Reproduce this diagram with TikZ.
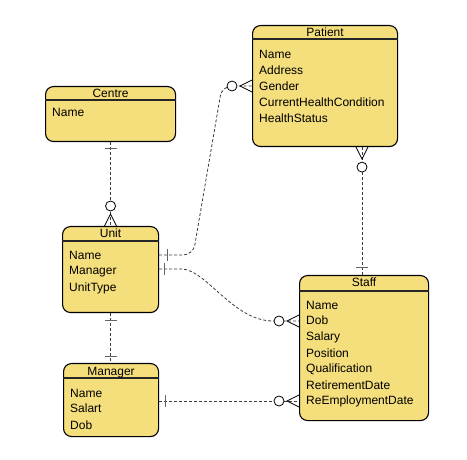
\documentclass[tikz,border=0pt]{standalone}
\usepackage{fontspec}
\setmainfont{Liberation Sans}
\usetikzlibrary{calc}
\definecolor{entfill}{RGB}{245,222,124}
\definecolor{conncol}{RGB}{60,60,60}
\definecolor{symcol}{RGB}{100,100,100}
\tikzset{
  entity/.style={draw=black, line width=1.1pt, fill=entfill, rounded corners=8pt,
    anchor=north west, inner sep=0pt, rectangle},
  divider/.style={draw=black!85, line width=1.2pt},
  title/.style={anchor=base, inner sep=0pt, font=\fontsize{12}{14}\selectfont},
  attr/.style={anchor=base west, inner sep=0pt, font=\fontsize{12}{14}\selectfont},
  conn/.style={draw=conncol, line width=0.8pt, dash pattern=on 3pt off 2pt},
  sym/.style={draw=symcol, line width=1pt},
  crow/.style={draw=black, line width=0.8pt},
  one/.pic={\draw[sym] (#1,-6) -- (#1,6);},
  zeromany/.pic={\draw[crow] (0,-6) -- (12,0) -- (0,6);
                 \draw[crow, fill=white] (20,0) circle (5pt);}
}
\begin{document}
\begin{tikzpicture}[x=1pt,y=-1pt]
\useasboundingbox (0,0) rectangle (467,460);

% entities
\node[entity, minimum width=130pt, minimum height=55pt]  (centre)  at (45,86)  {};
\node[entity, minimum width=96pt,  minimum height=86pt]  (unit)    at (62,226) {};
\node[entity, minimum width=95pt,  minimum height=73pt]  (manager) at (63,363) {};
\node[entity, minimum width=129pt, minimum height=145pt] (staff)   at (299,275) {};
\node[entity, minimum width=145pt, minimum height=121pt] (patient) at (252,25) {};

% dividers
\foreach \e/\d in {centre/14, unit/15, manager/15, staff/16, patient/14}{
  \draw[divider] ($(\e.north west)+(0,\d)$) -- ($(\e.north east)+(0,\d)$);
}

% titles
\node[title] (centreT)  at ($(centre.north)+(0,11.5)$)  {Centre};
\node[title] (unitT)    at ($(unit.north)+(0,11.5)$)    {Unit};
\node[title] (managerT) at ($(manager.north)+(0,12)$)   {Manager};
\node[title] (staffT)   at ($(staff.north)+(0,12)$)     {Staff};
\node[title] (patientT) at ($(patient.north)+(0,12)$)   {Patient};

% attributes
\node[attr] (centre-0) at ($(centre.north west)+(7,31)$) {Name};
\foreach \t [count=\i from 0] in {Name,Manager,UnitType}
  \node[attr] (unit-\i) at ($(unit.north west)+(7,33+16*\i)$) {\t};
\foreach \t [count=\i from 0] in {Name,Salart,Dob}
  \node[attr] (manager-\i) at ($(manager.north west)+(7,34)+(0,16*\i)$) {\t};
\foreach \t [count=\i from 0] in {Name,Dob,Salary,Position,Qualification,RetirementDate,ReEmploymentDate}
  \node[attr] (staff-\i) at ($(staff.north west)+(7,34)+(0,16*\i)$) {\t};
\foreach \t [count=\i from 0] in {Name,Address,Gender,CurrentHealthCondition,HealthStatus}
  \node[attr] (patient-\i) at ($(patient.north west)+(7,34)+(0,16*\i)$) {\t};

% attachment points
\coordinate (cB) at (centre.south);
\coordinate (uT) at (cB |- unit.north);
\coordinate (uB) at (unit.south);
\coordinate (mT) at (uB |- manager.north);
\coordinate (u1) at ($(unit.north east)+(0,29)$);
\coordinate (u2) at ($(unit.north east)+(0,43)$);
\coordinate (p1) at ($(patient.north west)+(0,61)$);
\coordinate (pB) at ($(patient.south west)+(110,0)$);
\coordinate (sT) at (pB |- staff.north);
\coordinate (s1) at ($(staff.north west)+(0,46)$);
\coordinate (m1) at ($(manager.north east)+(0,38)$);
\coordinate (s2) at (s1 |- m1);

% connectors
\draw[conn] (cB) -- (uT);
\draw[conn, rounded corners=10pt] (u1) -- ++(34,0) -- ($(p1)+(-30,0)$) -- (p1);
\draw[conn] (u2) -- ++(22,0) .. controls +(25,0) and +(-40,0) .. ($(s1)+(-26,0)$) -- (s1);
\draw[conn] (uB) -- (mT);
\draw[conn] (m1) -- (s2);
\draw[conn] (pB) -- (sT);

% end symbols
\pic[rotate=-90] at (cB) {one=6};
\pic[rotate=90]  at (uT) {zeromany};
\pic at (u1) {one=8};
\pic[rotate=180] at (p1) {zeromany};
\pic at (u2) {one=5};
\pic[rotate=180] at (s1) {zeromany};
\pic[rotate=-90] at (uB) {one=7};
\pic[rotate=90]  at (mT) {one=6};
\pic at (m1) {one=6};
\pic[rotate=180] at (s2) {zeromany};
\pic[rotate=-90] at (pB) {zeromany};
\pic[rotate=90]  at (sT) {one=7};
\end{tikzpicture}
\end{document}
